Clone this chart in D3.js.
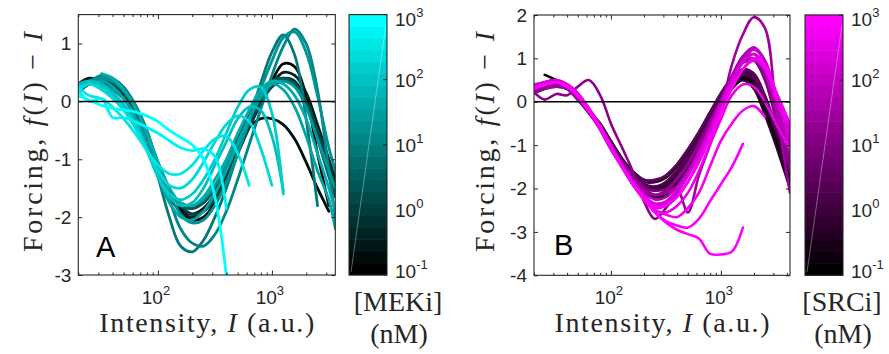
<!DOCTYPE html>
<html><head><meta charset="utf-8">
<script src="https://cdn.jsdelivr.net/npm/d3@7"></script>
<style>body{margin:0;background:#fff}</style>
</head><body><svg id="c" width="889" height="354"></svg>
<script>
// ---------- DATA ----------
const intensityA = [20,25,32,40,50,63,80,100,126,158,200,251,316,398,501,631,794,1000,1259,1585,1995,2512,3162,3600];
const concA = [-1.0,-0.8,-0.5,-0.2,0.1,0.4,0.9,1.1,1.3,1.4,1.6,1.7,2.0,2.2,2.4,2.6,2.8,3.0]; // log10 [MEKi] nM
const forcingA = [
 [0.2,0.3,0.35,0.3,0.15,-0.15,-0.6,-1.1,-1.6,-1.9,-2.05,-2.0,-1.75,-1.35,-0.9,-0.45,-0.05,0.35,0.65,0.6,0.1,-0.9,-1.8,null],
 [0.25,0.4,0.35,0.25,0.1,-0.2,-0.65,-1.15,-1.6,-1.85,-1.95,-1.85,-1.6,-1.2,-0.8,-0.45,-0.3,-0.3,-0.4,-0.65,-1.05,-1.5,-1.9,null],
 [0.3,0.4,0.3,0.25,0.1,-0.2,-0.7,-1.2,-1.65,-1.9,-2.0,-1.9,-1.65,-1.25,-0.8,-0.35,0.0,0.3,0.5,0.45,0.15,-0.4,-1.0,-1.35],
 [0.2,0.3,0.3,0.2,0.05,-0.25,-0.7,-1.2,-1.6,-1.8,-1.85,-1.75,-1.5,-1.15,-0.75,-0.35,0.0,0.3,0.4,0.35,0.0,-0.55,-1.15,-1.6],
 [0.25,0.35,0.35,0.3,0.15,-0.15,-0.55,-1.05,-1.5,-1.8,-1.95,-1.9,-1.7,-1.35,-0.9,-0.45,-0.05,0.25,0.35,0.3,0.0,-0.5,-1.1,-1.45],
 [0.15,0.3,0.35,0.3,0.15,-0.15,-0.6,-1.1,-1.55,-1.8,-1.85,-1.75,-1.5,-1.1,-0.65,-0.25,0.1,0.35,0.4,0.3,-0.05,-0.65,-1.3,-1.65],
 [0.2,0.3,0.4,0.35,0.2,-0.1,-0.6,-1.3,-2.0,-2.5,-2.6,-2.4,-2.0,-1.5,-0.9,-0.3,0.3,0.85,1.15,0.8,-0.3,-1.8,null,null],
 [0.3,0.35,0.45,0.4,0.25,-0.05,-0.5,-1.1,-1.7,-2.2,-2.45,-2.5,-2.3,-1.9,-1.35,-0.75,-0.15,0.45,0.95,1.25,1.0,0.2,-1.2,-2.0],
 [0.25,0.35,0.4,0.35,0.2,-0.1,-0.55,-1.05,-1.55,-1.95,-2.1,-2.05,-1.8,-1.4,-0.9,-0.35,0.2,0.7,1.1,1.2,0.85,0.1,-0.8,-1.2],
 [0.3,0.35,0.3,0.2,0.05,-0.25,-0.7,-1.15,-1.55,-1.75,-1.8,-1.7,-1.45,-1.1,-0.7,-0.3,0.05,0.3,0.35,0.25,-0.1,-0.65,-1.2,-1.5],
 [0.2,0.3,0.35,0.25,0.05,-0.3,-0.8,-1.3,-1.75,-2.0,-2.05,-1.9,-1.6,-1.2,-0.75,-0.3,0.1,0.3,0.2,-0.1,-0.6,-1.2,-1.7,-2.2],
 [null,null,0.48,0.4,0.2,-0.1,-0.55,-1.05,-1.5,-1.75,-1.8,-1.65,-1.35,-1.0,-0.55,-0.15,0.2,0.35,0.3,0.1,-0.3,-0.9,-1.5,-1.9],
 [0.3,0.35,0.3,0.15,-0.05,-0.35,-0.8,-1.3,-1.65,-1.8,-1.75,-1.5,-1.1,-0.7,-0.3,-0.1,-0.15,-0.6,-1.55,null,null,null,null,null],
 [0.25,0.3,0.25,0.1,-0.1,-0.4,-0.85,-1.3,-1.6,-1.7,-1.6,-1.35,-1.0,-0.55,-0.1,0.2,0.25,-0.2,-1.6,null,null,null,null,null],
 [0.2,0.3,0.2,0.05,-0.15,-0.45,-0.85,-1.2,-1.45,-1.5,-1.35,-1.05,-0.7,-0.4,-0.25,-0.35,-0.8,-1.45,null,null,null,null,null,null],
 [0.25,0.1,0.05,-0.1,-0.3,-0.55,-0.85,-1.1,-1.25,-1.25,-1.1,-0.85,-0.65,-0.6,-0.9,-1.45,null,null,null,null,null,null,null,null],
 [0.2,0.0,0.05,-0.28,-0.28,-0.35,-0.45,-0.55,-0.68,-0.8,-0.85,-0.82,-0.95,-1.85,null,null,null,null,null,null,null,null,null,null],
 [0.1,0.02,-0.07,-0.12,-0.15,-0.18,-0.25,-0.35,-0.5,-0.62,-0.75,-1.0,-1.65,-3.0,null,null,null,null,null,null,null,null,null,null]
];

const intensityB = [20,25,32,40,50,63,80,100,126,158,200,251,316,398,501,631,794,1000,1259,1585,1995,2512,3162,4250];
const concB = [-1.0,-0.9,-0.7,-0.5,-0.3,-0.1,0.1,0.3,0.5,1.0,1.2,1.3,1.5,1.8,2.0,2.2,2.4,2.6,2.7,2.85,2.9,2.95,3.0]; // log10 [SRCi] nM
const forcingB = [
 [0.3,0.4,0.45,0.35,0.1,-0.2,-0.55,-0.95,-1.35,-1.7,-1.95,-2.05,-1.95,-1.7,-1.35,-0.95,-0.5,-0.05,0.35,0.55,0.4,-0.1,-0.8,-1.7],
 [null,0.62,0.5,0.35,0.1,-0.25,-0.6,-1.0,-1.4,-1.75,-2.0,-2.15,-2.1,-1.85,-1.5,-1.1,-0.6,-0.1,0.3,0.5,0.35,-0.2,-0.9,-1.9],
 [0.25,0.35,0.4,0.3,0.05,-0.25,-0.6,-1.0,-1.4,-1.75,-1.95,-2.0,-1.85,-1.6,-1.25,-0.85,-0.4,0.05,0.45,0.7,0.55,0.0,-0.7,-1.6],
 [0.2,0.3,0.4,0.3,0.1,-0.2,-0.5,-0.9,-1.3,-1.6,-1.8,-1.85,-1.75,-1.5,-1.15,-0.75,-0.3,0.1,0.45,0.6,0.45,-0.05,-0.75,-1.85],
 [0.3,0.35,0.45,0.35,0.1,-0.2,-0.55,-0.95,-1.4,-1.75,-2.05,-2.2,-2.15,-1.9,-1.5,-1.05,-0.55,0.0,0.4,0.5,0.3,-0.3,-1.0,-2.0],
 [0.35,0.45,0.45,0.35,0.1,-0.2,-0.6,-1.0,-1.4,-1.75,-1.95,-2.0,-1.9,-1.65,-1.3,-0.9,-0.45,0.0,0.4,0.6,0.5,0.0,-0.7,-1.6],
 [0.25,0.35,0.4,0.3,0.05,-0.25,-0.6,-1.0,-1.4,-1.7,-1.85,-1.85,-1.7,-1.45,-1.1,-0.7,-0.25,0.15,0.5,0.7,0.6,0.1,-0.6,-1.5],
 [0.3,0.4,0.4,0.3,0.1,-0.2,-0.55,-0.95,-1.35,-1.7,-1.9,-1.95,-1.85,-1.6,-1.25,-0.85,-0.4,0.05,0.45,0.65,0.55,0.05,-0.6,-1.3],
 [0.2,0.3,0.35,0.3,0.1,-0.2,-0.55,-0.95,-1.35,-1.65,-1.8,-1.8,-1.7,-1.45,-1.1,-0.7,-0.25,0.2,0.55,0.75,0.65,0.15,-0.55,-1.4],
 [0.25,0.35,0.4,0.3,0.1,-0.2,-0.55,-0.95,-1.35,-1.7,-1.95,-2.05,-2.0,-1.75,-1.4,-0.95,-0.45,0.05,0.55,0.9,0.95,0.5,-0.4,-1.6],
 [0.22,0.05,0.18,0.15,0.35,0.5,0.15,-0.5,-1.05,-1.6,-2.3,-2.7,-2.45,-2.1,-1.7,-1.2,-0.65,-0.05,0.5,0.9,1.0,0.6,-0.3,-1.5],
 [0.3,0.4,0.45,0.35,0.1,-0.2,-0.6,-1.0,-1.45,-1.8,-2.05,-2.15,-2.05,-1.8,-1.45,-1.0,-0.5,0.05,0.6,1.05,1.25,0.95,0.0,-1.3],
 [0.2,0.3,0.35,0.3,0.05,-0.25,-0.6,-1.0,-1.4,-1.75,-2.0,-2.15,-2.1,-2.0,-2.55,-1.7,-1.0,-0.2,0.85,1.55,1.95,1.7,-0.1,-2.1],
 [0.3,0.4,0.45,0.4,0.15,-0.2,-0.6,-1.05,-1.45,-1.8,-2.1,-2.25,-2.2,-1.95,-1.6,-1.15,-0.6,-0.05,0.5,0.95,1.1,0.7,-0.2,-1.2],
 [0.35,0.45,0.45,0.35,0.1,-0.25,-0.65,-1.1,-1.5,-1.9,-2.2,-2.35,-2.3,-2.05,-1.65,-1.15,-0.6,0.0,0.55,1.0,1.25,0.9,0.0,-1.0],
 [0.3,0.45,0.5,0.4,0.15,-0.2,-0.6,-1.05,-1.5,-1.9,-2.2,-2.4,-2.35,-2.1,-1.7,-1.2,-0.65,-0.05,0.5,0.95,1.2,0.95,0.2,-0.7],
 [0.4,0.45,0.5,0.4,0.2,-0.15,-0.55,-1.0,-1.45,-1.85,-2.15,-2.35,-2.3,-2.05,-1.7,-1.25,-0.7,-0.1,0.45,0.9,1.1,0.85,0.15,-0.85],
 [0.35,0.4,0.45,0.4,0.2,-0.15,-0.55,-1.05,-1.5,-1.9,-2.25,-2.45,-2.4,-2.2,-1.85,-1.35,-0.8,-0.2,0.35,0.75,0.95,0.75,0.1,-0.6],
 [0.3,0.4,0.45,0.35,0.15,-0.2,-0.6,-1.05,-1.5,-1.9,-2.25,-2.5,-2.55,-2.4,-2.1,-1.6,-1.0,-0.4,0.15,0.4,0.35,0.0,-0.5,-1.1],
 [0.3,0.4,0.45,0.35,0.15,-0.2,-0.6,-1.05,-1.5,-1.9,-2.25,-2.5,-2.6,-2.66,-2.45,-2.1,-1.5,-0.9,-0.5,-0.2,-0.1,-0.35,null,null],
 [0.3,0.4,0.45,0.35,0.15,-0.2,-0.6,-1.05,-1.5,-1.9,-2.2,-2.4,-2.4,-2.2,-1.85,-1.4,-0.85,-0.25,0.3,0.75,1.0,0.85,0.25,-0.5],
 [0.3,0.4,0.45,0.35,0.15,-0.2,-0.6,-1.05,-1.5,-1.9,-2.25,-2.55,-2.75,-2.85,-2.9,-2.7,-2.3,-1.9,-1.5,-0.97,null,null,null,null],
 [0.3,0.4,0.45,0.35,0.15,-0.2,-0.6,-1.05,-1.5,-1.9,-2.25,-2.55,-2.78,-2.95,-3.05,-3.15,-3.5,-3.52,-3.45,-2.9,null,null,null,null]
];

const yTicksA = [-3,-2,-1,0,1];
const yTicksB = [-4,-3,-2,-1,0,1,2];
const xMajorExp = [2,3];
const cbarExp = [-1,0,1,2,3];

// ---------- DRAW ----------
const svg = d3.select('#c');
svg.append('rect').attr('width',889).attr('height',354).attr('fill','#fff');
const defs = svg.append('defs');
const AX = '#262626';
const SANS = 'Liberation Sans, Arial, Helvetica, sans-serif';
const SERIF = 'Liberation Serif, Times New Roman, serif';
const TICK_FS = '19px', SUP_FS = '13px', LAB_FS = '28px';

function drawPanel(o){
  const x = d3.scaleLog().domain(o.xDomain).range([o.left,o.right]);
  const y = d3.scaleLinear().domain(o.yDomain).range([o.bottom,o.top]);
  const cScale = d3.scaleLinear().domain([-1,3]).range([0,1]).clamp(true);
  const g = svg.append('g');
  defs.append('clipPath').attr('id','clip'+o.id).append('rect')
    .attr('x',o.left).attr('y',o.top).attr('width',o.right-o.left).attr('height',o.bottom-o.top);

  const line = d3.line().defined(d=>d[1]!=null).x(d=>x(d[0])).y(d=>y(d[1]))
    .curve(d3.curveCatmullRom.alpha(0.5));
  const lg = g.append('g').attr('clip-path',`url(#clip${o.id})`);
  o.forcing.forEach((vals,i)=>{
    const pts = o.intensity.map((I,j)=>[I, vals[j]]).filter(d=>d[1]!=null);
    lg.append('path').attr('d', line(pts)).attr('fill','none')
      .attr('stroke', o.colorFn(cScale(o.conc[i]))).attr('stroke-width',o.lw)
      .attr('stroke-linejoin','round').attr('stroke-linecap','round');
  });
  g.append('line').attr('x1',o.left).attr('x2',o.right).attr('y1',y(0)).attr('y2',y(0))
    .attr('stroke','#000').attr('stroke-width',1.5);

  const fmt = d=>String(d);
  const yl = g.append('g').attr('transform',`translate(${o.left},0)`)
    .call(d3.axisLeft(y).tickValues(o.yTicks).tickSizeInner(-4).tickSizeOuter(0).tickPadding(7).tickFormat(fmt));
  g.append('g').attr('transform',`translate(${o.right},0)`)
    .call(d3.axisRight(y).tickValues(o.yTicks).tickSizeInner(-4).tickSizeOuter(0).tickFormat(''));
  const majors = xMajorExp.map(e=>Math.pow(10,e));
  const minors = [];
  for (let dec=10; dec<=1000; dec*=10) for (let k=2;k<=9;k++){ const v=k*dec; if(v>=o.xDomain[0] && v<=o.xDomain[1]) minors.push(v); }
  [[o.bottom,d3.axisBottom],[o.top,d3.axisTop]].forEach(([yy,fn])=>{
    g.append('g').attr('transform',`translate(0,${yy})`).call(fn(x).tickValues(minors).tickSizeInner(-2.5).tickSizeOuter(0).tickFormat(''));
    g.append('g').attr('transform',`translate(0,${yy})`).call(fn(x).tickValues(majors).tickSizeInner(-4.5).tickSizeOuter(0).tickFormat(''));
  });
  g.selectAll('.domain').remove();
  g.selectAll('.tick line').attr('stroke',AX).attr('stroke-width',1);
  yl.selectAll('text').style('font-family',SANS).style('font-size',TICK_FS).attr('fill',AX);
  g.append('rect').attr('x',o.left).attr('y',o.top).attr('width',o.right-o.left).attr('height',o.bottom-o.top)
    .attr('fill','none').attr('stroke',AX).attr('stroke-width',1.1);
  xMajorExp.forEach(e=>{
    const t = g.append('text').attr('x',x(Math.pow(10,e))-2).attr('y',o.bottom+29)
      .attr('text-anchor','middle').style('font-family',SANS).style('font-size',TICK_FS).attr('fill',AX);
    t.append('tspan').text('10');
    t.append('tspan').attr('dy',-9).style('font-size',SUP_FS).text(String(e));
  });
  const xt = g.append('text').attr('x',(o.left+o.right)/2).attr('y',332).attr('text-anchor','middle')
    .style('font-family',SERIF).style('font-size',LAB_FS).attr('fill',AX)
    .attr('textLength',215).attr('lengthAdjust','spacing');
  xt.append('tspan').text('Intensity, ');
  xt.append('tspan').style('font-style','italic').text('I');
  xt.append('tspan').text(' (a.u.)');
  const ytxt = g.append('text').attr('transform',`translate(${o.ylabX},142) rotate(-90)`).attr('text-anchor','middle')
    .style('font-family',SERIF).style('font-size',LAB_FS).attr('fill',AX)
    .attr('textLength',220).attr('lengthAdjust','spacing');
  ytxt.append('tspan').text('Forcing, ');
  ytxt.append('tspan').style('font-style','italic').text('f');
  ytxt.append('tspan').text('(');
  ytxt.append('tspan').style('font-style','italic').text('I');
  ytxt.append('tspan').text(') \u2212 ');
  ytxt.append('tspan').style('font-style','italic').text('I');
  g.append('text').attr('x',o.letterX).attr('y',o.letterY).style('font-family',SANS).style('font-size','29px')
    .attr('fill','#000').text(o.letter);

  // colorbar
  const cb = o.cbar;
  const cy = d3.scaleLinear().domain([-1,3]).range([o.bottom,o.top]);
  const nSteps = 22;
  const bandH = (o.bottom-o.top)/nSteps;
  g.selectAll(null).data(d3.range(nSteps)).enter().append('rect')
    .attr('x',cb.left).attr('width',cb.right-cb.left)
    .attr('y',i=>o.bottom-(i+1)*bandH-0.3).attr('height',bandH+0.6)
    .attr('fill',i=>o.colorFn(i/(nSteps-1)));
  g.append('line').attr('x1',cb.left+2).attr('y1',o.bottom-3).attr('x2',cb.right-1).attr('y2',o.top+10)
    .attr('stroke','#fff').attr('stroke-opacity',0.45).attr('stroke-width',0.8);
  g.append('rect').attr('x',cb.left).attr('y',o.top).attr('width',cb.right-cb.left).attr('height',o.bottom-o.top)
    .attr('fill','none').attr('stroke',AX).attr('stroke-width',1.1);
  cbarExp.forEach(e=>{
    const yy = cy(e);
    g.append('line').attr('x1',cb.right-4).attr('x2',cb.right).attr('y1',yy).attr('y2',yy).attr('stroke',AX);
    const base = Math.min(Math.max(yy+7, o.top+11), o.bottom+3);
    const t = g.append('text').attr('x',cb.right+8).attr('y',base)
      .style('font-family',SANS).style('font-size',TICK_FS).attr('fill',AX);
    t.append('tspan').text('10');
    t.append('tspan').attr('dy',-9).style('font-size',SUP_FS).text(e<0?'-'+Math.abs(e):String(e));
  });
  g.append('text').attr('x',cb.labX).attr('y',311).attr('text-anchor','middle')
    .style('font-family',SERIF).style('font-size',LAB_FS).attr('fill',AX).text(cb.label);
  g.append('text').attr('x',cb.labX+1).attr('y',343).attr('text-anchor','middle')
    .style('font-family',SERIF).style('font-size',LAB_FS).attr('fill',AX).text('(nM)');
}

drawPanel({id:'A', left:78.3, right:335.3, top:14.6, bottom:275,
  xDomain:[20,3600], yDomain:[-3,1.5], yTicks:yTicksA, lw:2.8,
  intensity:intensityA, conc:concA, forcing:forcingA,
  colorFn:t=>d3.rgb(0,Math.round(255*t),Math.round(255*t)).toString(),
  ylabX:42, letter:'A', letterX:96, letterY:257,
  cbar:{left:349, right:387, labX:398, label:'[MEKi]'}});

drawPanel({id:'B', left:534, right:790, top:15, bottom:275.3,
  xDomain:[20,4250], yDomain:[-4,2], yTicks:yTicksB, lw:2.6,
  intensity:intensityB, conc:concB, forcing:forcingB,
  colorFn:t=>d3.rgb(Math.round(255*t),0,Math.round(255*t)).toString(),
  ylabX:494, letter:'B', letterX:554, letterY:255,
  cbar:{left:805, right:843, labX:842, label:'[SRCi]'}});
</script>
</body></html>
